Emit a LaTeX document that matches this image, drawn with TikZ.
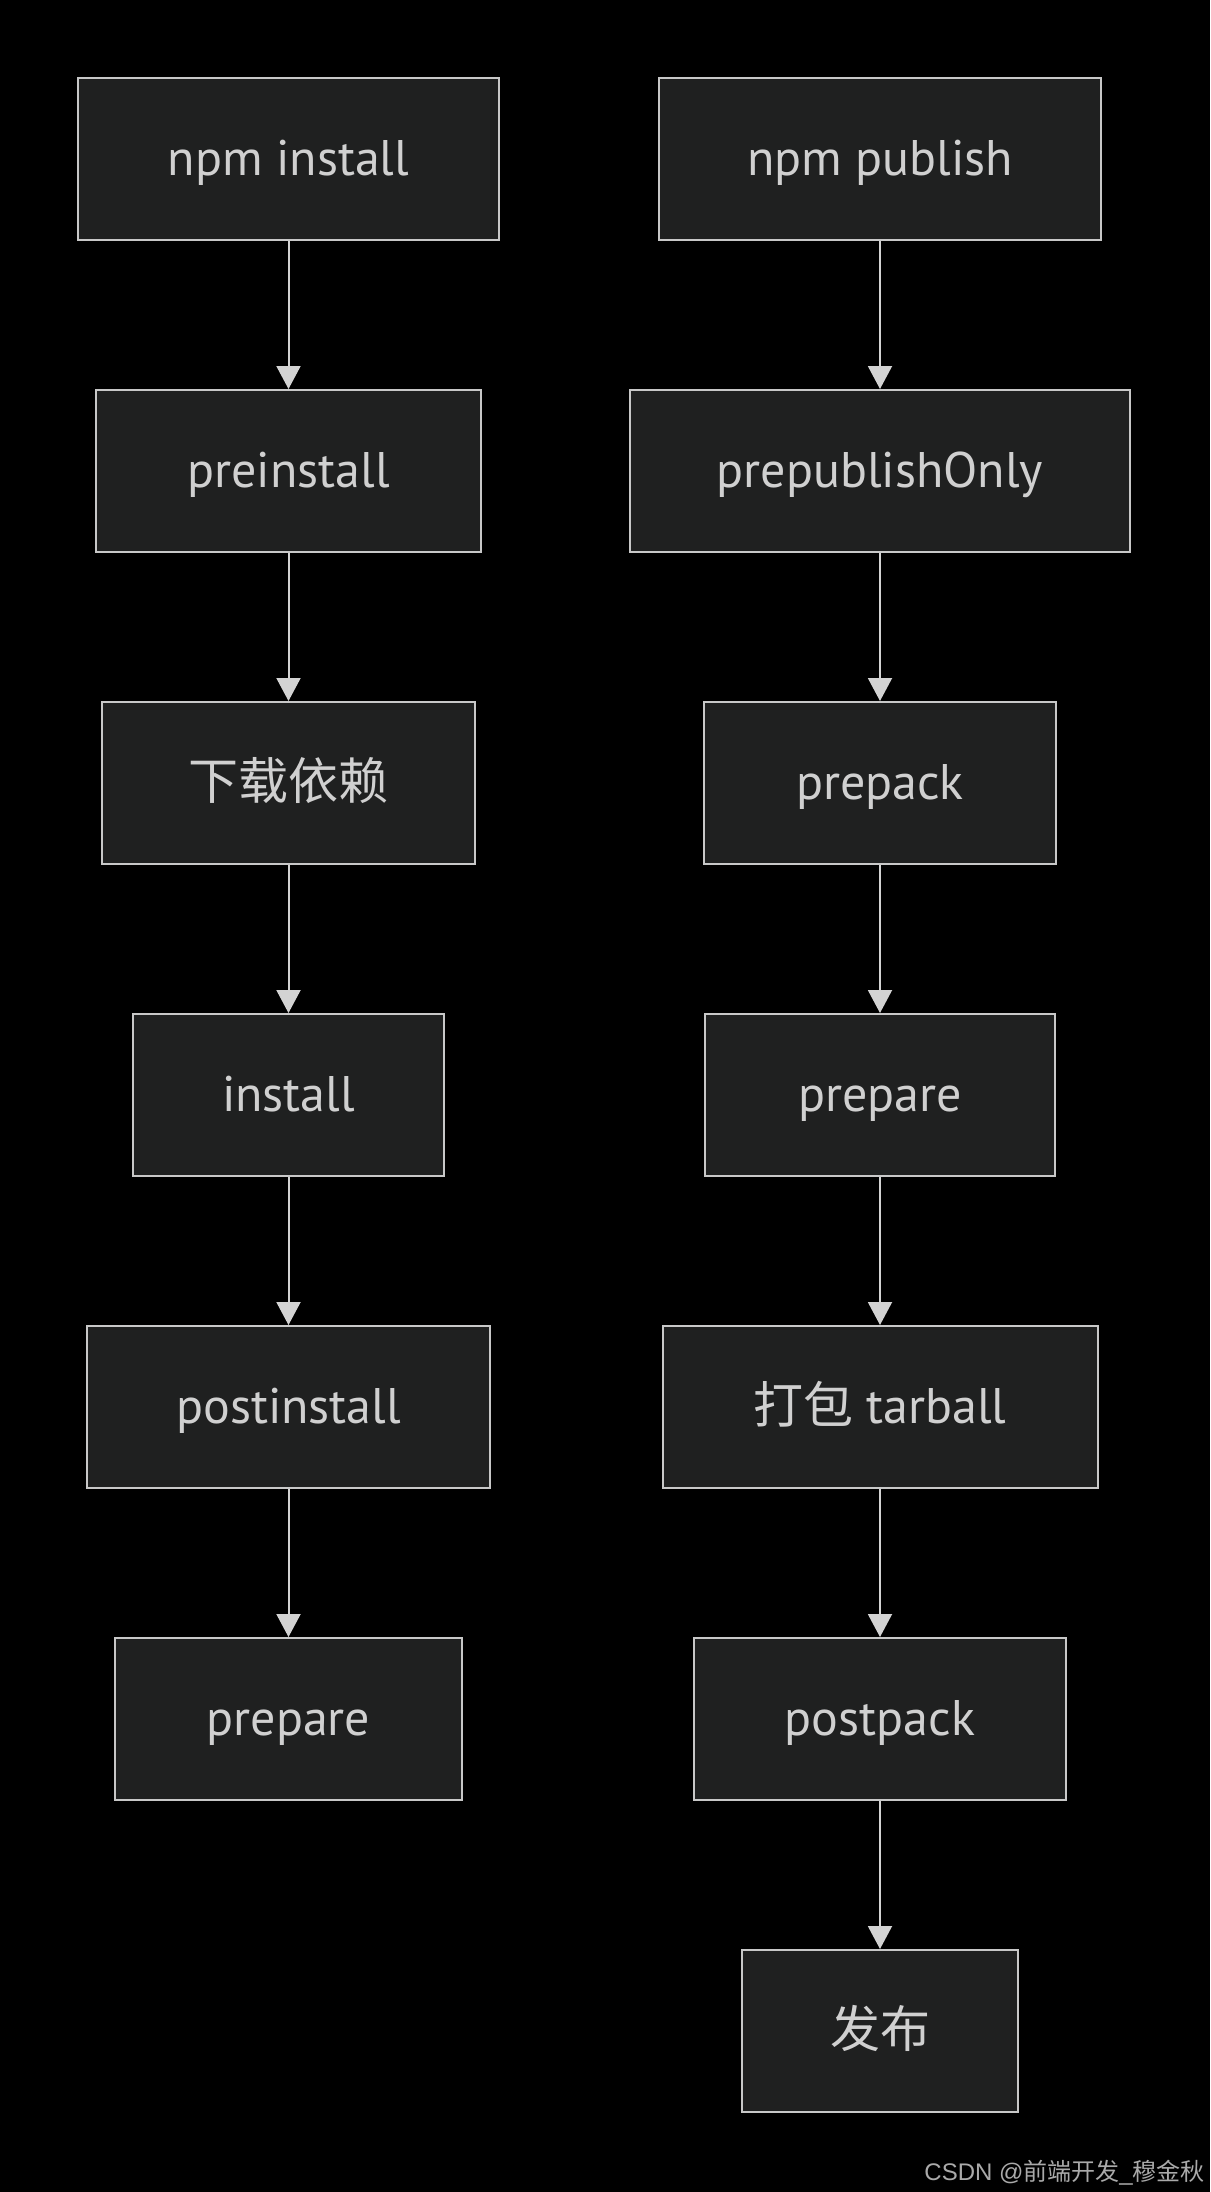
\documentclass[tikz,border=0pt]{standalone}
\usepackage{fontspec}
\setmainfont{PT Sans}
\newfontfamily\cjk{Noto Sans CJK SC}
\newfontfamily\wmfont{Liberation Sans}
\usetikzlibrary{arrows.meta}
\definecolor{bg}{HTML}{000000}
\definecolor{boxfill}{HTML}{1F2020}
\definecolor{boxline}{HTML}{C8C8C8}
\definecolor{txt}{HTML}{D0D0D0}
\definecolor{edge}{HTML}{D3D3D3}
\definecolor{wm}{HTML}{AAAAAA}
\begin{document}
\begin{tikzpicture}[x=1pt,y=1pt,
  stepbox/.style={draw=boxline,fill=boxfill,line width=2pt,minimum height=162pt,inner sep=0pt,text height=44pt,text depth=12pt,text=txt,font=\fontsize{50}{58}\selectfont},
  flow/.style={draw=edge,line width=2pt,-{Triangle[width=24pt,length=23pt]}}]
\fill[bg] (0,0) rectangle (1210,-2192);
\useasboundingbox (0,0) rectangle (1210,-2192);
% left column
\node[stepbox,minimum width=421pt] (a1) at (288.5,-159) {npm install};
\node[stepbox,minimum width=385pt] (a2) at (288.5,-471) {preinstall};
\node[stepbox,minimum width=373pt] (a3) at (288.5,-783) {\cjk 下载依赖};
\node[stepbox,minimum width=311pt] (a4) at (288.5,-1095) {install};
\node[stepbox,minimum width=403pt] (a5) at (288.5,-1407) {postinstall};
\node[stepbox,minimum width=347pt] (a6) at (288.5,-1719) {prepare};
% right column
\node[stepbox,minimum width=442pt] (b1) at (880,-159) {npm publish};
\node[stepbox,minimum width=500pt] (b2) at (880,-471) {prepublishOnly};
\node[stepbox,minimum width=352pt] (b3) at (880,-783) {prepack};
\node[stepbox,minimum width=350pt] (b4) at (880,-1095) {prepare};
\node[stepbox,minimum width=435pt] (b5) at (880,-1407) {{\cjk 打包} tarball};
\node[stepbox,minimum width=372pt] (b6) at (880,-1719) {postpack};
\node[stepbox,minimum width=276pt] (b7) at (880,-2031) {\cjk 发布};
% edges
\draw[flow] (a1) -- (a2);
\draw[flow] (a2) -- (a3);
\draw[flow] (a3) -- (a4);
\draw[flow] (a4) -- (a5);
\draw[flow] (a5) -- (a6);
\draw[flow] (b1) -- (b2);
\draw[flow] (b2) -- (b3);
\draw[flow] (b3) -- (b4);
\draw[flow] (b4) -- (b5);
\draw[flow] (b5) -- (b6);
\draw[flow] (b6) -- (b7);
% watermark
\node[anchor=base east,text=wm,font=\fontsize{24}{28}\selectfont,inner sep=0pt] (wmk) at (1205,-2180) {\wmfont CSDN @{\cjk 前端开发}\_{\cjk 穆金秋}};
\end{tikzpicture}
\end{document}
